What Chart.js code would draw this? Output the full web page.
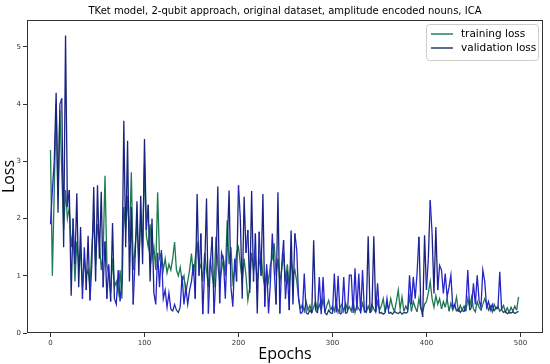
<!DOCTYPE html>
<html><head><meta charset="utf-8">
<script src="https://cdn.jsdelivr.net/npm/chart.js@4.4.1/dist/chart.umd.min.js"></script>
<style>html,body{margin:0;padding:0;background:#fff;}</style>
</head><body>
<canvas id="c" width="550" height="364"></canvas>
<script>
const titleText = "TKet model, 2-qubit approach, original dataset, amplitude encoded nouns, ICA";
const xLabel = "Epochs";
const yLabel = "Loss";
const seriesNames = ["training loss", "validation loss"];
const xTicks = [0, 100, 200, 300, 400, 500];
const yTicks = [0, 1, 2, 3, 4, 5];
// epochs sampled every 2
const epochs = Array.from({length: 250}, (_, i) => i * 2);

const trainLoss = [
 3.2,1.0,2.5,4.0,2.4,3.9,2.8,1.8,2.5,2.0,
 2.2,1.5,1.8,0.9,1.6,1.2,1.4,0.8,1.3,1.0,
 1.1,0.8,1.5,2.0,1.2,1.9,1.6,1.1,1.4,2.75,
 1.2,1.0,0.7,1.3,0.8,0.9,0.7,1.1,0.6,2.2,
 1.8,2.4,1.6,2.81,1.1,1.5,1.9,1.3,2.0,1.5,
 2.95,1.7,1.5,1.9,1.3,1.5,1.1,2.46,1.3,1.4,
 1.1,1.3,1.05,1.2,1.1,1.3,1.59,1.1,1.0,1.15,
 0.9,1.0,0.7,0.9,1.1,1.39,1.0,1.3,1.6,1.1,
 1.2,0.9,1.4,1.1,0.8,1.3,1.0,0.8,1.68,1.2,
 0.9,1.1,1.3,1.0,1.97,1.2,1.5,0.9,1.1,1.4,
 1.5,1.2,0.9,1.3,1.0,0.57,0.8,1.4,1.1,1.3,
 0.9,1.2,1.4,1.0,0.8,1.1,0.9,1.2,1.3,1.57,
 1.0,1.3,0.9,1.1,1.4,0.9,1.2,0.8,1.3,1.0,
 1.1,0.9,0.6,0.42,0.5,0.38,0.55,0.4,0.48,0.36,
 0.45,0.55,0.38,0.5,0.4,0.6,0.37,0.48,0.57,0.4,
 0.47,0.38,0.55,0.36,0.45,0.5,0.38,0.52,0.4,0.46,
 0.38,0.55,0.36,0.48,0.42,0.37,0.52,0.4,0.36,0.47,
 0.38,0.5,0.42,0.36,0.55,0.4,0.47,0.6,0.37,0.5,
 0.42,0.6,0.45,0.38,0.55,0.75,0.42,0.63,0.38,0.47,
 0.4,0.63,0.38,0.55,0.45,0.37,0.6,0.42,0.38,0.5,
 0.55,0.7,0.9,0.6,0.45,0.65,0.5,0.6,0.42,0.55,
 0.45,0.6,0.38,0.52,0.4,0.47,0.63,0.37,0.48,0.4,
 0.47,0.38,0.6,0.45,0.63,0.42,0.37,0.55,0.45,0.4,
 0.5,0.6,0.52,0.4,0.47,0.37,0.5,0.42,0.47,0.38,
 0.42,0.48,0.37,0.44,0.36,0.45,0.38,0.47,0.4,0.63
];

const valLoss = [
 1.9,2.5,3.0,4.2,2.1,4.0,4.1,1.5,5.2,2.2,
 2.5,0.65,2.0,1.2,2.44,0.8,1.85,0.6,1.5,0.75,
 1.7,0.57,1.2,2.55,0.9,2.58,1.3,2.47,0.8,1.6,
 0.6,1.2,0.55,1.92,0.6,0.5,1.1,0.55,0.9,3.71,
 1.5,3.36,0.9,2.2,0.5,1.3,2.3,1.0,2.4,1.2,
 3.39,1.8,2.24,0.9,2.0,0.7,0.5,1.4,0.8,1.45,
 0.6,0.75,0.45,0.7,0.42,0.38,0.5,0.4,0.36,0.45,
 1.0,0.5,0.8,0.5,0.75,0.9,1.2,0.6,2.43,1.0,
 1.74,0.33,1.1,2.35,0.34,1.2,1.68,0.34,1.0,2.56,
 0.52,1.4,1.27,0.6,1.5,2.49,0.8,0.46,1.3,0.9,
 2.58,2.0,0.6,2.38,1.4,1.8,0.7,2.48,0.9,1.74,
 0.34,1.77,1.0,2.43,0.46,1.2,0.34,0.9,1.74,1.1,
 0.5,2.46,0.34,1.2,1.62,0.6,1.08,0.4,1.79,0.5,
 1.74,1.45,0.6,0.34,0.36,1.04,0.35,0.33,0.4,0.35,
 1.62,0.4,0.35,0.98,0.33,0.98,0.35,0.32,0.4,0.35,
 0.34,1.04,0.36,1.0,0.33,0.35,0.98,0.34,0.36,1.01,
 1.01,0.35,1.13,0.4,1.04,0.34,1.1,0.36,0.38,1.69,
 0.35,0.4,1.69,0.37,0.87,0.34,0.36,0.33,0.35,0.6,
 0.34,0.36,0.33,0.38,0.35,0.34,0.37,0.33,0.36,0.35,
 0.36,1.01,0.5,0.98,0.6,1.04,1.68,0.46,0.28,1.71,
 0.75,1.3,2.32,1.74,0.69,1.85,0.75,1.18,1.1,0.69,
 1.04,0.63,0.8,1.01,0.45,0.5,0.38,0.42,0.36,0.4,
 0.37,0.5,1.1,0.4,0.45,0.87,0.5,1.01,0.57,0.45,
 1.1,0.9,0.45,0.55,0.4,0.5,0.38,0.45,0.42,1.07,
 0.4,0.36,0.38,0.34,0.36,0.35,0.37,0.34,0.36,0.38
];

const trainColor = '#2a7d6f';
const valColor = '#253e5e';

function valSeg(ctx) {
  const a = ctx.p0.parsed.y, b = ctx.p1.parsed.y;
  if (a < 0.5 && b < 0.5) return '#1f3f60';
  if (Math.abs(a - b) > 0.9) return '#1a2380';
  return '#2525c8';
}
function trainSeg(ctx) {
  const a = ctx.p0.parsed.y, b = ctx.p1.parsed.y;
  if (a < 0.56 && b < 0.56) return '#1f6a5a';
  return '#1e7a50';
}

const overlay = {
  id: 'overlay',
  afterDraw(chart) {
    const {ctx, chartArea: a} = chart;
    ctx.save();
    ctx.strokeStyle = '#333';
    ctx.lineWidth = 1;
    ctx.strokeRect(a.left + 0.5, a.top + 0.5, a.right - a.left - 1, a.bottom - a.top - 1);
    ctx.fillStyle = '#000';
    ctx.font = '10px "DejaVu Sans"';
    ctx.textAlign = 'center';
    ctx.textBaseline = 'middle';
    ctx.fillText(titleText, (a.left + a.right) / 2, 11);
    // legend
    const lx = 426, ly = 24, lw = 112, lh = 36;
    ctx.fillStyle = 'rgba(255,255,255,0.85)';
    ctx.strokeStyle = '#cccccc';
    ctx.beginPath();
    if (ctx.roundRect) ctx.roundRect(lx + 0.5, ly + 0.5, lw, lh, 3); else ctx.rect(lx + 0.5, ly + 0.5, lw, lh);
    ctx.fill(); ctx.stroke();
    const cols = [trainColor, valColor];
    ctx.font = '10.5px "DejaVu Sans"';
    ctx.textAlign = 'left';
    seriesNames.forEach((n, i) => {
      const y = ly + 10 + i * 14;
      ctx.strokeStyle = cols[i];
      ctx.lineWidth = 1.5;
      ctx.beginPath(); ctx.moveTo(lx + 5, y); ctx.lineTo(lx + 27, y); ctx.stroke();
      ctx.fillStyle = '#000';
      ctx.fillText(n, lx + 35, y);
    });
    ctx.restore();
  }
};

new Chart(document.getElementById('c'), {
  type: 'line',
  data: {
    datasets: [
      { label: seriesNames[0], data: trainLoss.map((v, i) => ({x: epochs[i], y: v})),
        borderColor: trainColor, borderWidth: 1.3, pointRadius: 0, tension: 0, order: 1,
        segment: { borderColor: trainSeg } },
      { label: seriesNames[1], data: valLoss.map((v, i) => ({x: epochs[i], y: v})),
        borderColor: valColor, borderWidth: 1.3, pointRadius: 0, tension: 0, order: 0,
        segment: { borderColor: valSeg } }
    ]
  },
  options: {
    responsive: false,
    devicePixelRatio: 1,
    animation: false,
    layout: { padding: { top: 20, right: 7, left: 0, bottom: 0 } },
    plugins: { legend: { display: false }, title: { display: false }, tooltip: { enabled: false } },
    scales: {
      x: {
        type: 'linear', min: -25, max: 524,
        afterBuildTicks: s => { s.ticks = xTicks.map(v => ({value: v})); },
        afterFit: s => { s.height = 31; },
        grid: { display: true, drawOnChartArea: false, drawTicks: true, tickLength: 4, color: '#333' },
        border: { display: false },
        ticks: { font: { family: 'DejaVu Sans', size: 7 }, color: '#333', padding: 2, maxRotation: 0 },
        title: { display: true, text: xLabel, font: { family: 'Open Sans', size: 16 }, color: '#000', padding: 0 }
      },
      y: {
        min: 0, max: 5.47,
        afterBuildTicks: s => { s.ticks = yTicks.map(v => ({value: v})); },
        afterFit: s => { s.width = 27; },
        grid: { display: true, drawOnChartArea: false, drawTicks: true, tickLength: 4, color: '#333' },
        border: { display: false },
        ticks: { font: { family: 'DejaVu Sans', size: 7 }, color: '#333', padding: 2 },
        title: { display: true, text: yLabel, font: { family: 'Open Sans', size: 16 }, color: '#000', padding: 0 }
      }
    }
  },
  plugins: [overlay]
});
</script>
</body></html>
